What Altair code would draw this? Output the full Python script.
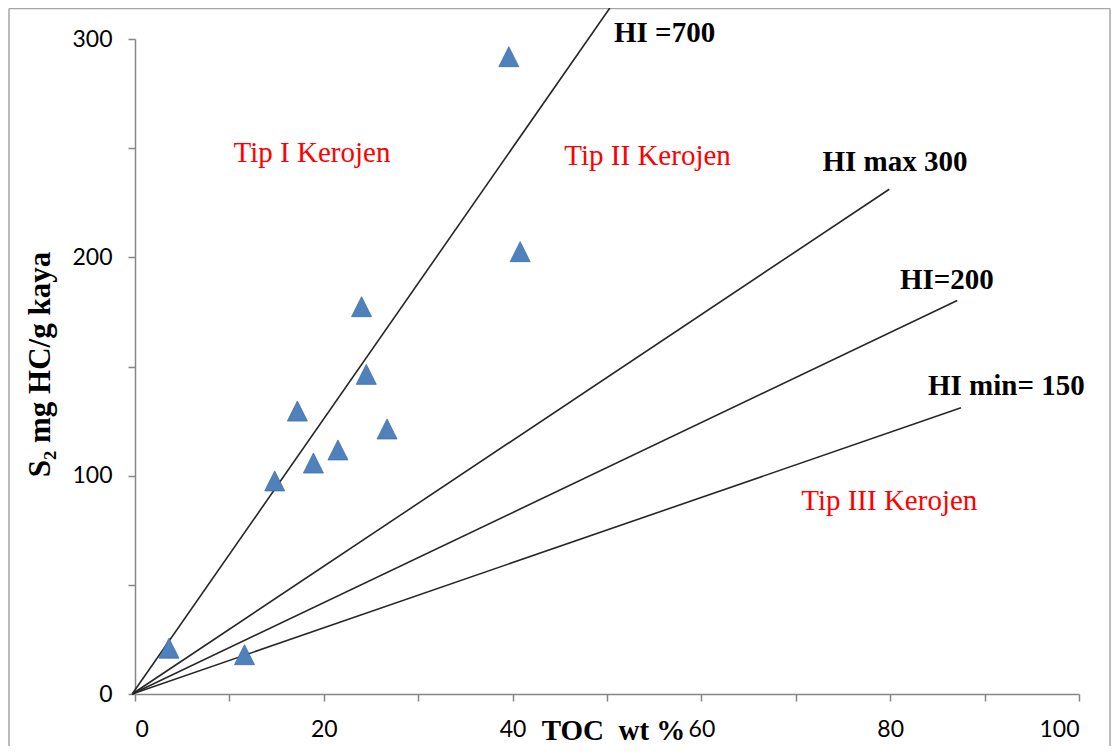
import altair as alt
import pandas as pd

# Sample points (TOC wt %, S2 mg HC/g rock)
toc = [3.6, 11.6, 14.8, 17.2, 18.9, 21.5, 24.0, 24.5, 26.7, 39.6, 40.8]
s2 = [21.0, 18.0, 97.6, 129.6, 105.8, 111.8, 177.4, 146.4, 121.4, 291.9, 202.6]

# HI reference lines, drawn from the origin to their end points
line_names = ["HI =700", "HI max 300", "HI=200", "HI min= 150"]
line_end_toc = [50.3, 79.9, 87.1, 87.5]
line_end_s2 = [314.2, 231.2, 180.2, 131.1]

# Line labels
line_label_toc = [56.1, 80.5, 86.0, 92.3]
line_label_s2 = [302.8, 243.7, 189.6, 141.1]

# Kerogen region labels
region_names = ["Tip I Kerojen", "Tip II Kerojen", "Tip III Kerojen"]
region_toc = [18.75, 54.3, 79.9]
region_s2 = [247.8, 246.4, 88.4]

x_ticks = [0, 10, 20, 30, 40, 50, 60, 70, 80, 90, 100]
y_ticks = [0, 50, 100, 150, 200, 250, 300]

pts = pd.DataFrame({"TOC": toc, "S2": s2})
lines = pd.DataFrame({
    "line": line_names,
    "x0": [-0.3] * len(line_names),
    "y0": [0] * len(line_names),
    "x1": line_end_toc,
    "y1": line_end_s2,
})
line_labels = pd.DataFrame({"label": line_names, "TOC": line_label_toc, "S2": line_label_s2})
regions = pd.DataFrame({"label": region_names, "TOC": region_toc, "S2": region_s2})

xscale = alt.Scale(domain=[0, 100], nice=False)
yscale = alt.Scale(domain=[0, 300], nice=False)

x_axis = alt.Axis(
    values=x_ticks,
    labelExpr="datum.value % 20 == 0 ? datum.label : ''",
    title="TOC\u00a0\u00a0wt %",
    titleX=478, titleY=45, titleAlign="center", titleBaseline="alphabetic",
    titleFont="Liberation Serif", titleFontSize=29, titleFontWeight="bold", titleColor="black",
    labelPadding=17,
)
y_axis = alt.Axis(
    values=y_ticks,
    labelExpr="datum.value % 100 == 0 ? datum.label : ''",
    title="S₂ mg HC/g kaya",
    titleX=-95, titleY=325, titleAlign="center", titleBaseline="middle", titleAngle=-90,
    titleFont="Liberation Serif", titleFontSize=31, titleFontWeight="bold", titleColor="black",
    labelPadding=16,
)

base_pts = alt.Chart(pts).mark_point(
    shape="M0,-1L1,1L-1,1Z", filled=True, size=400,
    fill="#4F81BD", stroke="#3F6FA8", strokeWidth=0.8, opacity=1,
).encode(
    x=alt.X("TOC:Q", scale=xscale, axis=x_axis),
    y=alt.Y("S2:Q", scale=yscale, axis=y_axis),
)

rules = alt.Chart(lines).mark_rule(color="#262626", strokeWidth=1.6).encode(
    x=alt.X("x0:Q", scale=xscale),
    y=alt.Y("y0:Q", scale=yscale),
    x2="x1:Q",
    y2="y1:Q",
)

line_text = alt.Chart(line_labels).mark_text(
    font="Liberation Serif", fontSize=29, fontWeight="bold", color="black",
    align="center", baseline="middle",
).encode(
    x=alt.X("TOC:Q", scale=xscale),
    y=alt.Y("S2:Q", scale=yscale),
    text="label:N",
)

region_text = alt.Chart(regions).mark_text(
    font="Liberation Serif", fontSize=29, color="#FF0000",
    align="center", baseline="middle",
).encode(
    x=alt.X("TOC:Q", scale=xscale),
    y=alt.Y("S2:Q", scale=yscale),
    text="label:N",
)

frame_data = pd.DataFrame({"k": [0]})
frame_left = alt.Chart(frame_data).mark_rule(color="#A6A6A6", strokeWidth=1.5).encode(
    x=alt.value(-126), y=alt.value(-30.5), y2=alt.value(720))
frame_top = alt.Chart(frame_data).mark_rule(color="#A6A6A6", strokeWidth=1.5).encode(
    x=alt.value(-126), x2=alt.value(975), y=alt.value(-30.5))
frame_right = alt.Chart(frame_data).mark_rule(color="#A6A6A6", strokeWidth=1.5).encode(
    x=alt.value(975), y=alt.value(-30.5), y2=alt.value(720))

chart = alt.layer(
    frame_left, frame_top, frame_right, rules, base_pts, line_text, region_text
).properties(
    width=944, height=655,
    autosize=alt.AutoSizeParams(type="none"),
    padding={"left": 127, "top": 31, "right": 32, "bottom": 52},
    background="white",
).configure_view(stroke=None).configure_axis(
    grid=False,
    domainColor="#868686", domainWidth=1.5,
    tickColor="#868686", tickWidth=1.5, tickSize=7,
    labelFont="Lato", labelFontSize=23, labelColor="black",
)

chart.save("out.html", embed_options={"renderer": "svg", "actions": False})
